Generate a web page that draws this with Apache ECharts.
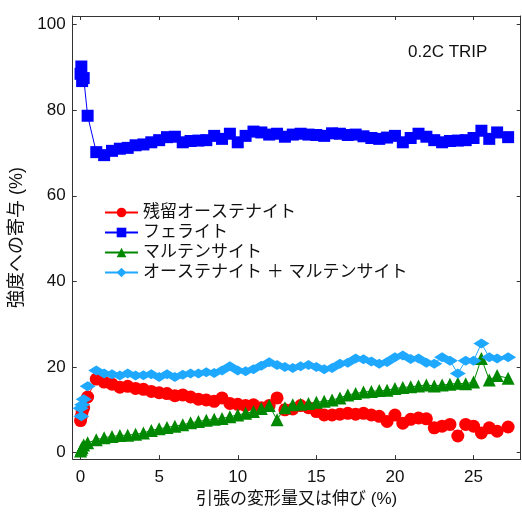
<!DOCTYPE html>
<html><head><meta charset="utf-8">
<script src="https://cdn.jsdelivr.net/npm/echarts@6/dist/echarts.min.js"></script>
<style>html,body{margin:0;padding:0;background:#fff}#c{width:522px;height:513px}</style>
</head><body><div id="c"></div>
<script>
const strain = [0, 0.05, 0.1, 0.2, 0.45, 1.0, 1.5, 2.0, 2.5, 3.0, 3.5, 4.0, 4.5, 5.0, 5.5, 6.0, 6.5, 7.0, 7.5, 8.0, 8.5, 9.0, 9.5, 10, 10.5, 11, 11.5, 12, 12.5, 13, 13.5, 14, 14.5, 15, 15.5, 16, 16.5, 17, 17.5, 18, 18.5, 19, 19.5, 20, 20.5, 21, 21.5, 22, 22.5, 23, 23.5, 24, 24.5, 25, 25.5, 26, 26.5, 27.2];
const austenite = [7.5, 8.5, 9.5, 10.5, 13.0, 17.2, 16.5, 16.0, 15.3, 15.5, 15.0, 14.8, 14.3, 14.0, 13.8, 13.3, 13.5, 13.0, 12.5, 12.3, 12.0, 12.8, 11.5, 11.3, 11.0, 11.2, 10.5, 11.0, 12.8, 10.0, 10.2, 11.0, 10.5, 9.6, 8.8, 8.8, 9.0, 9.2, 9.0, 9.2, 8.8, 8.5, 7.3, 8.8, 6.9, 7.8, 8.1, 7.9, 5.8, 6.2, 6.6, 3.9, 6.6, 6.2, 4.6, 5.8, 5.0, 6.0];
const ferrite = [88.5, 90.2, 86.8, 87.5, 78.7, 70.2, 69.5, 70.5, 71.0, 71.2, 71.8, 72.0, 72.5, 73.0, 73.7, 73.8, 72.5, 72.8, 72.9, 73.0, 74.0, 73.3, 74.5, 72.5, 74.0, 75.0, 74.8, 74.3, 74.5, 73.8, 74.3, 74.5, 74.3, 74.2, 74.0, 74.6, 74.5, 74.2, 74.3, 73.9, 73.5, 73.3, 73.6, 74.0, 72.5, 73.5, 74.5, 73.8, 73.0, 72.5, 72.8, 72.9, 73.0, 73.5, 75.2, 73.3, 74.8, 73.7];
const martensite = [0.4, 0.8, 1.2, 1.8, 2.3, 3.0, 3.5, 3.8, 4.0, 4.1, 4.3, 4.6, 5.2, 5.6, 5.9, 6.2, 6.5, 7.0, 7.3, 7.6, 7.8, 8.0, 8.4, 8.8, 9.2, 9.6, 10.3, 11.0, 7.7, 10.5, 11.2, 11.3, 11.5, 11.8, 12.0, 12.3, 12.8, 13.5, 13.8, 14.2, 14.3, 14.5, 14.6, 15.0, 15.2, 15.4, 15.6, 15.8, 15.6, 15.8, 16.0, 16.2, 16.1, 16.5, 22.0, 17.0, 18.0, 17.4];
const combined = [10.4, 8.5, 11.2, 12.5, 15.5, 19.2, 18.5, 18.3, 18.0, 18.5, 18.0, 18.1, 18.3, 17.7, 18.3, 17.7, 18.2, 18.5, 18.5, 18.8, 18.6, 19.2, 20.2, 19.2, 19.0, 19.5, 20.3, 21.1, 20.5, 20.0, 19.8, 20.2, 20.5, 20.0, 19.5, 19.8, 20.8, 21.0, 22.0, 21.8, 21.3, 20.8, 21.2, 22.3, 22.7, 21.9, 22.0, 21.0, 20.8, 22.3, 21.5, 18.5, 21.5, 21.5, 25.5, 22.3, 22.0, 22.3];
const xTicks = [0, 5, 10, 15, 20, 25];
const yTicks = [0, 20, 40, 60, 80, 100];
const seriesNames = ['残留オーステナイト', 'フェライト', 'マルテンサイト', 'オーステナイト ＋ マルテンサイト'];

const pairs = v => strain.map((x, i) => [x, v[i]]);
const FONT = '"Liberation Sans", Arial, "Noto Sans CJK JP", sans-serif';
const axisCol = '#333';
const baseX = {
  type: 'value', min: -0.5, max: 28,
  splitLine: { show: false },
  axisLine: { show: true, onZero: false, lineStyle: { color: axisCol, width: 1 } },
  axisTick: { show: true, inside: true, length: 4, customValues: xTicks, lineStyle: { color: axisCol } },
  axisLabel: { show: true, customValues: xTicks, color: '#111', fontSize: 17, fontFamily: FONT, margin: 10 }
};
const baseY = {
  type: 'value', min: -1.5, max: 102,
  splitLine: { show: false },
  axisLine: { show: true, onZero: false, lineStyle: { color: axisCol, width: 1 } },
  axisTick: { show: true, inside: true, length: 4, customValues: yTicks, lineStyle: { color: axisCol } },
  axisLabel: { show: true, customValues: yTicks, color: '#111', fontSize: 17, fontFamily: FONT, margin: 7 }
};
const mk = (name, data, color, symbol, size) => ({
  name, type: 'line', data: pairs(data), symbol, symbolSize: size,
  itemStyle: { color }, lineStyle: { color, width: 1 },
  showSymbol: true, animation: false, clip: false
});
const chart = echarts.init(document.getElementById('c'), null, { renderer: 'canvas' });
chart.setOption({
  animation: false,
  backgroundColor: '#fff',
  textStyle: { fontFamily: FONT },
  grid: { left: 72.7, right: 1.3, top: 16, bottom: 48, containLabel: false },
  xAxis: [
    Object.assign({}, baseX, { position: 'bottom', name: '引張の変形量又は伸び (%)', nameLocation: 'middle', nameGap: 28,
      nameTextStyle: { fontSize: 17, color: '#111', fontFamily: FONT } }),
    Object.assign({}, baseX, { position: 'top', axisLabel: { show: false } })
  ],
  yAxis: [
    Object.assign({}, baseY, { position: 'left', name: '強度への寄与 (%)', nameLocation: 'middle', nameGap: 42,
      nameTextStyle: { fontSize: 18, color: '#111', fontFamily: FONT } }),
    Object.assign({}, baseY, { position: 'right', axisLabel: { show: false } })
  ],
  legend: {
    left: 104, top: 204, padding: 0, orient: 'vertical', itemWidth: 33, itemHeight: 12, itemGap: 3,
    textStyle: { fontSize: 17, color: '#111', fontFamily: FONT },
    data: seriesNames
  },
  graphic: [{ type: 'text', left: 408, top: 44, style: { text: '0.2C TRIP', fontSize: 17, fill: '#111', fontFamily: FONT } }],
  series: [
    mk(seriesNames[1], ferrite, '#0000ff', 'rect', 12),
    mk(seriesNames[0], austenite, '#ff0000', 'circle', 13),
    mk(seriesNames[2], martensite, '#008800', 'triangle', 13),
    mk(seriesNames[3], combined, '#1fa8ff', 'diamond', [16, 10])
  ]
});
</script></body></html>
